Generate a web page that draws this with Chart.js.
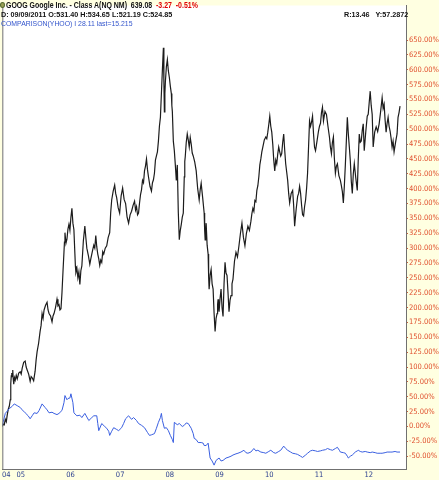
<!DOCTYPE html>
<html>
<head>
<meta charset="utf-8">
<script src="https://cdn.jsdelivr.net/npm/chart.js@4.4.1/dist/chart.umd.min.js"></script>
<style>
  html, body { margin: 0; padding: 0; background: #ffffe1; }
  #wrap { position: relative; width: 439px; height: 480px; overflow: hidden; }
  canvas { position: absolute; left: 0; top: 0; }
  .hdr { position: absolute; white-space: pre; font-family: 'Liberation Sans', Arial, sans-serif; transform-origin: 0 0; line-height: 1; }
  #h1 { left: 6px; top: 1px; font-size: 8.5px; font-weight: bold; color: #111; transform: scaleX(0.82); }
  #h1 .neg { color: #e00000; }
  #h2 { left: 1px; top: 11px; font-size: 8px; font-weight: bold; color: #111; transform: scaleX(0.9); }
  #h2b { left: 344px; top: 11px; font-size: 8px; font-weight: bold; color: #111; transform: scaleX(0.9); }
  #h3 { left: 1px; top: 20px; font-size: 8px; color: #3355cc; transform: scaleX(0.86); }
  #icon { position: absolute; left: 0px; top: 2px; width: 5px; height: 6px; border-radius: 50%; background: #9aa055; border: 1px solid #556b2f; box-sizing: border-box; }
</style>
</head>
<body>
<div id="wrap">
  <canvas id="c" width="439" height="480"></canvas>
  <div id="icon"></div>
  <div class="hdr" id="h1">GOOG Google Inc. - Class A(NQ NM)  639.08  <span class="neg">-3.27  -0.51%</span></div>
  <div class="hdr" id="h2">D: 09/09/2011 O:531.40 H:534.65 L:521.19 C:524.85</div>
  <div class="hdr" id="h2b">R:13.46   Y:57.2872</div>
  <div class="hdr" id="h3">COMPARISON(YHOO) I 28.11 last=15.215</div>
</div>
<script>
// ---- data (decimal year, % change from first close) ----
const googYears = [
2004.63,2004.65,2004.67,2004.69,2004.71,2004.73,2004.75,2004.77,2004.79,2004.80,2004.81,2004.82,2004.83,2004.84,2004.85,2004.86,2004.875,2004.89,2004.91,2004.93,2004.96,2004.99,
2005.01,2005.03,2005.06,2005.09,2005.11,2005.13,2005.16,2005.19,2005.21,2005.23,2005.26,2005.29,2005.31,2005.33,2005.36,2005.39,2005.41,2005.43,2005.45,2005.47,2005.50,2005.53,2005.55,2005.57,2005.60,2005.63,2005.65,2005.67,2005.70,2005.73,2005.75,2005.77,2005.79,2005.81,2005.83,2005.85,2005.87,2005.88,2005.89,2005.91,2005.93,2005.95,2005.97,2005.99,
2006.01,2006.03,2006.05,2006.07,2006.09,2006.10,2006.11,2006.13,2006.15,2006.17,2006.19,2006.21,2006.23,2006.26,2006.29,2006.31,2006.33,2006.36,2006.39,2006.41,2006.43,2006.45,2006.47,2006.49,2006.51,2006.53,2006.55,2006.57,2006.59,2006.61,2006.63,2006.65,2006.67,2006.70,2006.73,2006.76,2006.79,2006.81,2006.83,2006.86,2006.89,2006.91,2006.93,2006.96,2006.99,
2007.02,2007.05,2007.08,2007.11,2007.14,2007.17,2007.20,2007.23,2007.26,2007.29,2007.31,2007.33,2007.35,2007.37,2007.39,2007.41,2007.43,2007.45,2007.47,2007.49,2007.51,2007.53,2007.55,2007.57,2007.60,2007.63,2007.65,2007.67,2007.69,2007.71,2007.73,2007.75,2007.77,2007.79,2007.81,2007.83,2007.85,2007.87,2007.88,2007.89,2007.90,2007.91,2007.93,2007.95,2007.97,2007.99,
2008.01,2008.03,2008.04,2008.05,2008.07,2008.09,2008.11,2008.13,2008.15,2008.17,2008.19,2008.21,2008.23,2008.25,2008.27,2008.29,2008.30,2008.31,2008.33,2008.35,2008.37,2008.39,2008.41,2008.43,2008.45,2008.47,2008.50,2008.53,2008.56,2008.59,2008.61,2008.63,2008.66,2008.69,2008.70,2008.71,2008.72,2008.73,2008.75,2008.77,2008.78,2008.79,2008.81,2008.83,2008.85,2008.87,2008.89,2008.91,2008.93,2008.95,2008.96,2008.97,2008.98,2008.99,
2009.01,2009.03,2009.05,2009.07,2009.09,2009.11,2009.13,2009.15,2009.17,2009.19,2009.21,2009.23,2009.25,2009.27,2009.30,2009.33,2009.36,2009.39,2009.42,2009.45,2009.48,2009.51,2009.54,2009.57,2009.60,2009.63,2009.65,2009.67,2009.69,2009.71,2009.73,2009.75,2009.77,2009.79,2009.81,2009.83,2009.85,2009.87,2009.90,2009.93,2009.95,2009.97,2009.99,
2010.01,2010.03,2010.05,2010.07,2010.09,2010.11,2010.13,2010.15,2010.17,2010.19,2010.21,2010.23,2010.25,2010.27,2010.29,2010.31,2010.33,2010.35,2010.37,2010.39,2010.41,2010.44,2010.47,2010.49,2010.51,2010.54,2010.57,2010.59,2010.61,2010.63,2010.65,2010.67,2010.69,2010.71,2010.73,2010.75,2010.77,2010.79,2010.81,2010.83,2010.85,2010.87,2010.89,2010.91,2010.93,2010.96,2010.99,
2011.01,2011.03,2011.05,2011.07,2011.09,2011.12,2011.15,2011.18,2011.21,2011.23,2011.25,2011.27,2011.29,2011.31,2011.33,2011.35,2011.37,2011.40,2011.43,2011.45,2011.47,2011.49,2011.51,2011.53,2011.55,2011.57,2011.59,2011.61,2011.63,2011.65,2011.67,2011.69,2011.71,2011.74,2011.77,2011.79,2011.81,2011.83,2011.85,2011.87,2011.89,2011.91,2011.94,2011.97,2011.99,
2012.01,2012.03,2012.05,2012.07,2012.09,2012.12,2012.15,2012.18,2012.21,2012.24,2012.27,2012.29,2012.31,2012.33,2012.35,2012.37,2012.39,2012.41,2012.43,2012.45,2012.47,2012.49,2012.51,2012.54,2012.57,2012.59,2012.61,2012.63];
const googPct = [
0,4,3,12,8,20,29,34,45,72,85,90,84,95,80,71,82,78,86,80,90,92,
88,98,108,110,100,95,88,76,84,82,77,93,112,126,140,160,170,190,182,196,204,209,196,190,186,176,186,190,200,214,203,205,196,198,225,260,293,310,326,308,315,332,340,330,
352,367,342,331,290,270,259,266,250,260,239,262,270,312,337,318,300,288,273,282,290,298,305,300,321,302,290,282,271,280,276,294,290,300,304,318,326,360,381,396,406,392,385,368,359,
388,401,382,375,352,342,356,362,372,379,364,370,356,359,376,390,398,414,410,430,438,450,432,420,404,396,410,415,426,448,455,462,480,505,520,560,600,637,580,529,560,580,605,617,598,587,
572,560,540,530,480,464,440,414,440,360,314,330,340,352,359,420,446,454,478,492,482,470,486,475,460,455,445,430,400,381,398,409,385,359,330,314,330,342,305,290,252,231,255,264,240,231,190,160,182,190,205,214,200,193,
215,231,200,185,240,276,258,254,225,193,212,220,240,248,278,293,285,304,325,342,318,304,325,337,330,345,358,367,362,380,378,397,405,420,440,450,462,470,482,487,484,495,508,
522,505,495,475,448,430,448,442,458,470,462,455,459,478,492,465,442,428,414,392,376,392,397,372,337,365,387,392,404,392,372,356,354,370,381,400,426,470,514,505,512,522,492,470,464,480,497,
505,510,528,537,514,530,525,505,487,470,459,478,487,450,426,438,442,422,414,405,395,376,405,440,480,520,492,470,447,412,392,425,442,418,397,450,492,478,480,498,509,464,495,522,525,
545,564,540,525,470,495,504,496,509,530,553,535,542,515,495,510,520,505,497,485,470,480,462,478,492,520,528,539];

const yhooYears = [2004.63,2004.69,2004.73,2004.77,2004.83,2004.87,2004.93,2004.99,
2005.03,2005.09,2005.15,2005.19,2005.23,2005.27,2005.33,2005.37,2005.43,2005.49,2005.53,2005.57,2005.63,2005.67,2005.73,2005.77,2005.83,2005.87,2005.89,2005.93,2005.95,2005.99,
2006.01,2006.05,2006.07,2006.13,2006.19,2006.23,2006.29,2006.33,2006.37,2006.43,2006.47,2006.53,2006.55,2006.57,2006.63,2006.69,2006.73,2006.77,2006.79,2006.83,2006.87,2006.93,2006.97,
2007.03,2007.07,2007.11,2007.17,2007.23,2007.27,2007.33,2007.37,2007.43,2007.49,2007.55,2007.59,2007.63,2007.69,2007.73,2007.77,2007.81,2007.83,2007.85,2007.89,2007.93,2007.97,
2008.01,2008.05,2008.07,2008.09,2008.15,2008.19,2008.25,2008.29,2008.33,2008.37,2008.43,2008.47,2008.49,2008.53,2008.57,2008.63,2008.67,2008.69,2008.73,2008.77,2008.81,2008.85,2008.89,2008.93,2008.99,
2009.03,2009.07,2009.13,2009.17,2009.23,2009.27,2009.33,2009.37,2009.43,2009.49,2009.53,2009.57,2009.63,2009.69,2009.73,2009.77,2009.83,2009.89,2009.93,2009.99,
2010.03,2010.09,2010.13,2010.19,2010.23,2010.29,2010.33,2010.37,2010.43,2010.47,2010.53,2010.57,2010.63,2010.67,2010.73,2010.77,2010.83,2010.87,2010.93,2010.97,
2011.03,2011.07,2011.13,2011.17,2011.23,2011.27,2011.33,2011.37,2011.41,2011.43,2011.49,2011.53,2011.57,2011.59,2011.63,2011.67,2011.73,2011.77,2011.79,2011.83,2011.87,2011.93,2011.97,
2012.03,2012.07,2012.13,2012.17,2012.23,2012.27,2012.33,2012.37,2012.43,2012.47,2012.53,2012.57,2012.63];
const yhooPct = [2,22,26,30,34,38,35,32,
28,23,18,13,18,23,22,27,38,32,28,23,24,22,20,22,27,40,52,45,47,48,
55,40,23,18,19,15,22,16,10,15,18,18,5,-7,5,0,-3,-8,-15,-8,-2,-5,-7,
-2,5,13,18,12,15,10,5,2,-2,-10,-15,-14,-12,-3,7,15,22,10,-3,-2,-7,
-15,-22,-27,7,3,5,0,2,6,5,-3,-12,-20,-22,-27,-27,-28,-32,-32,-28,-53,-58,-65,-57,-53,
-58,-57,-53,-52,-50,-48,-46,-45,-43,-40,-44,-45,-43,-37,-41,-40,-43,-44,-45,-42,
-40,-44,-45,-42,-40,-33,-37,-40,-43,-45,-46,-47,-50,-52,-48,-45,-41,-40,-41,-42,
-41,-40,-39,-37,-39,-40,-37,-35,-40,-43,-44,-45,-50,-53,-50,-48,-43,-41,-40,-42,-43,-42,-43,
-44,-43,-44,-45,-45,-45,-44,-43,-43,-43,-42,-43,-43];

const xTickYears = [2004.71,2005,2006,2007,2008,2009,2010,2011,2012];
const xTickLabels = ['04','05','06','07','08','09','10','11','12'];
const yTickValues = [];
for (let v = -50; v <= 650; v += 25) yTickValues.push(v);

const toXY = (xs, ys) => xs.map((x, i) => ({ x: x, y: ys[i] }));

const bgPlugin = {
  id: 'bg',
  beforeDraw(chart) {
    const { ctx, chartArea: a } = chart;
    ctx.save();
    ctx.fillStyle = '#ffffe1';
    ctx.fillRect(0, 0, chart.width, chart.height);
    ctx.fillStyle = '#ffffff';
    ctx.fillRect(a.left, a.top, a.right - a.left, a.bottom - a.top);
    ctx.restore();
  },
  afterDraw(chart) {
    const { ctx, chartArea: a } = chart;
    ctx.save();
    ctx.strokeStyle = '#707070';
    ctx.lineWidth = 1;
    ctx.beginPath();
    ctx.moveTo(a.left + 0.5, a.top);
    ctx.lineTo(a.left + 0.5, a.bottom);
    ctx.stroke();
    ctx.restore();
  }
};

const axisFont = { family: "'Liberation Sans Narrow','DejaVu Sans Condensed','Liberation Sans',sans-serif", size: 7.5 };

new Chart(document.getElementById('c'), {
  type: 'line',
  data: {
    datasets: [
      { label: 'YHOO', data: toXY(yhooYears, yhooPct), borderColor: '#3a5fe0', borderWidth: 1, pointRadius: 0, tension: 0, fill: false },
      { label: 'GOOG', data: toXY(googYears, googPct), borderColor: '#1c1c1c', borderWidth: 1.2, pointRadius: 0, tension: 0, fill: false }
    ]
  },
  options: {
    responsive: false,
    animation: false,
    events: [],
    layout: { padding: 0 },
    plugins: { legend: { display: false }, tooltip: { enabled: false } },
    scales: {
      x: {
        type: 'linear', min: 2004.63, max: 2012.75, position: 'bottom',
        grid: { display: false, drawTicks: false },
        border: { display: true, color: '#707070', width: 1 },
        afterBuildTicks: s => { s.ticks = xTickYears.map(v => ({ value: v })); },
        afterFit: s => { s.height = 11; },
        ticks: { autoSkip: false, maxRotation: 0, padding: 2, color: '#2b3f8f', font: axisFont,
          callback: (v, i) => xTickLabels[i] }
      },
      y: {
        type: 'linear', position: 'right', min: -71.5, max: 708.1,
        grid: { drawOnChartArea: false, drawTicks: true, tickLength: 2, color: '#d06040' },
        border: { display: true, color: '#707070', width: 1 },
        afterBuildTicks: s => { s.ticks = yTickValues.map(v => ({ value: v })); },
        afterFit: s => { s.width = 33; },
        ticks: { autoSkip: false, padding: 1, color: '#e0502e', font: axisFont,
          callback: v => v.toFixed(2) + '%' }
      }
    }
  },
  plugins: [bgPlugin]
});
</script>
</body>
</html>
